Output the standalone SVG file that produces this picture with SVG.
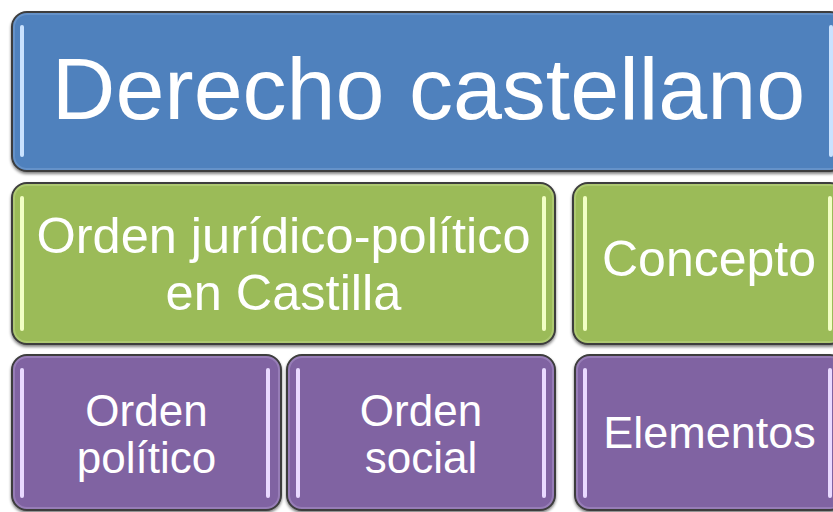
<svg xmlns="http://www.w3.org/2000/svg" width="833" height="512" viewBox="0 0 833 512">
  <defs>
    <filter id="sh" x="-5%" y="-5%" width="110%" height="115%">
      <feGaussianBlur in="SourceAlpha" stdDeviation="1.5"/>
      <feOffset dx="0" dy="1.5" result="b"/>
      <feComponentTransfer><feFuncA type="linear" slope="0.5"/></feComponentTransfer>
      <feMerge><feMergeNode/><feMergeNode in="SourceGraphic"/></feMerge>
    </filter>
    <filter id="glow" filterUnits="userSpaceOnUse" x="0" y="0" width="833" height="512">
      <feGaussianBlur stdDeviation="0.7"/>
    </filter>
  </defs>
  <style>
    .box { stroke: #3c3c3c; stroke-width: 2; filter: url(#sh); }
    .blue { fill: #4F81BD; }
    .green { fill: #9BBB59; }
    .purple { fill: #8064A2; }
    .hl { stroke-width: 4; stroke-linecap: round; filter: url(#glow); }
    .hb { stroke: #C9E2FF; }
    .hg { stroke: #F2FFC4; }
    .hp { stroke: #E9DAFF; }
    .inner { fill: none; stroke-width: 2; stroke-opacity: 0.35; }
    text { font-family: "Liberation Sans", Arial, sans-serif; fill: #ffffff; text-anchor: middle; }
  </style>
  <rect width="833" height="512" fill="#ffffff"/>

  <g id="derecho-castellano">
    <rect class="box blue" x="12" y="12" width="833" height="159" rx="15"/>
    <rect class="inner" x="14" y="14" width="829" height="155" rx="13" stroke="#8fb3e0"/>
    <line class="hl hb" x1="22" y1="27" x2="22" y2="155"/>
    <line class="hl hb" x1="831" y1="27" x2="831" y2="155"/>
    <text x="428.5" y="119" font-size="88">Derecho castellano</text>
  </g>

  <g id="orden-juridico">
    <rect class="box green" x="12" y="183" width="543" height="161" rx="15"/>
    <rect class="inner" x="14" y="185" width="539" height="157" rx="13" stroke="#d0e4a0"/>
    <line class="hl hg" x1="22" y1="198" x2="22" y2="329"/>
    <line class="hl hg" x1="544" y1="198" x2="544" y2="329"/>
    <text x="283.5" y="253" font-size="50.5">Orden jurídico-político</text>
    <text x="283.5" y="310" font-size="50.5">en Castilla</text>
  </g>

  <g id="concepto">
    <rect class="box green" x="573" y="183" width="272" height="161" rx="15"/>
    <rect class="inner" x="575" y="185" width="268" height="157" rx="13" stroke="#d0e4a0"/>
    <line class="hl hg" x1="585" y1="198" x2="585" y2="329"/>
    <line class="hl hg" x1="830" y1="198" x2="830" y2="329"/>
    <text x="709" y="276" font-size="50">Concepto</text>
  </g>

  <g id="orden-politico">
    <rect class="box purple" x="12" y="355" width="269" height="155" rx="15"/>
    <rect class="inner" x="14" y="357" width="265" height="151" rx="13" stroke="#c2aee0"/>
    <line class="hl hp" x1="22" y1="370" x2="22" y2="496"/>
    <line class="hl hp" x1="268" y1="370" x2="268" y2="496"/>
    <text x="146.5" y="426" font-size="44">Orden</text>
    <text x="146.5" y="473" font-size="44">político</text>
  </g>

  <g id="orden-social">
    <rect class="box purple" x="287" y="355" width="268" height="155" rx="15"/>
    <rect class="inner" x="289" y="357" width="264" height="151" rx="13" stroke="#c2aee0"/>
    <line class="hl hp" x1="298" y1="370" x2="298" y2="496"/>
    <line class="hl hp" x1="544" y1="370" x2="544" y2="496"/>
    <text x="421" y="426" font-size="44">Orden</text>
    <text x="421" y="473" font-size="44">social</text>
  </g>

  <g id="elementos">
    <rect class="box purple" x="575" y="355" width="270" height="155" rx="15"/>
    <rect class="inner" x="577" y="357" width="266" height="151" rx="13" stroke="#c2aee0"/>
    <line class="hl hp" x1="585" y1="370" x2="585" y2="496"/>
    <line class="hl hp" x1="830" y1="370" x2="830" y2="496"/>
    <text x="709.5" y="448" font-size="45">Elementos</text>
  </g>

  <g id="connectors"></g>
</svg>
